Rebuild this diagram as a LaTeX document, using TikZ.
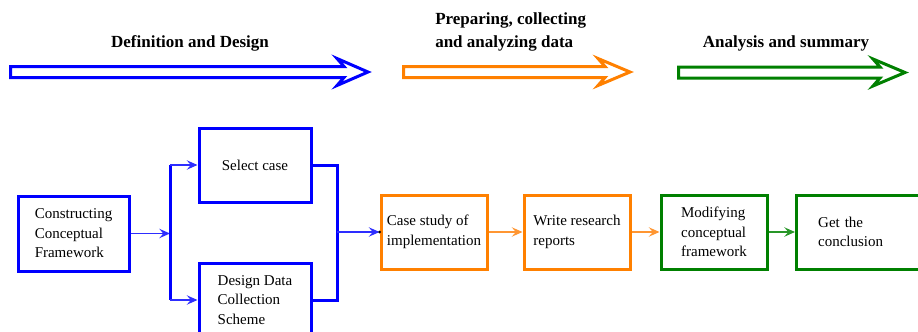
\documentclass[tikz,border=0pt]{standalone}
\usepackage{fontspec}
\setmainfont{Liberation Serif}
\usetikzlibrary{arrows.meta}
\definecolor{myblue}{RGB}{0,0,255}
\definecolor{myorange}{RGB}{255,128,0}
\definecolor{mygreen}{RGB}{0,128,0}
\definecolor{lblue}{RGB}{45,45,255}
\definecolor{lorange}{RGB}{255,150,50}
\definecolor{lgreen}{RGB}{40,150,40}
\begin{document}
\begin{tikzpicture}[x=0.75pt,y=-0.75pt,
  boxbase/.style={draw, line width=2.25pt, fill=white, align=left,
    font=\fontsize{11.25}{14.6}\selectfont, inner sep=0pt},
  bbox/.style={boxbase, draw=myblue, minimum width=84pt, minimum height=55.5pt},
  obox/.style={boxbase, draw=myorange, minimum width=79.5pt, minimum height=55.5pt},
  gbox/.style={boxbase, draw=mygreen, minimum width=79.5pt, minimum height=55.5pt},
  busline/.style={line width=2.25pt, myblue},
  conn/.style={line width=1.2pt, -{Stealth[length=8pt,width=7pt,inset=3pt]}},
  bigarrow/.style={line width=2.25pt, line join=miter},
  title/.style={font=\fontsize{12.75}{17.25}\selectfont\bfseries, align=left, inner sep=0pt}
]
\useasboundingbox (0,0) rectangle (918,332);
\clip (0,0) rectangle (918,332);

% phase arrows
\draw[bigarrow, myblue] (10.5,66.5) -- (344,66.5) -- (337,58.5) -- (368,72) -- (337,85.5) -- (344,77.5) -- (10.5,77.5) -- cycle;
\draw[bigarrow, myorange] (403.5,66.5) -- (605,66.5) -- (598,58.5) -- (630,72) -- (598,85.5) -- (605,77.5) -- (403.5,77.5) -- cycle;
\draw[bigarrow, mygreen] (678.5,67) -- (880,67) -- (873,59) -- (905,72.5) -- (873,86) -- (880,78) -- (678.5,78) -- cycle;

% titles
\node[title] (t1) at (190,43) {Definition and Design};
\node[title, anchor=west] (t2) at (435,31.5) {Preparing, collecting\\and analyzing data};
\node[title] (t3) at (786,43) {Analysis and summary};

% boxes
\node[bbox, minimum width=83.25pt, minimum height=56.25pt] (cf) at (73.5,233.5) {Constructing\\Conceptual\\Framework};
\node[bbox] (sc) at (255,165) {Select case};
\node[bbox] (dd) at (255,300) {Design Data\\Collection\\Scheme};
\node[obox] (cs) at (434,232) {Case study of\\implementation};
\node[obox] (wr) at (577,232) {Write research\\reports};
\node[gbox] (mc) at (714,232) {Modifying\\conceptual\\framework};
\node[gbox, minimum width=97.5pt, text width=65pt, inner xsep=16.1pt] (gc) at (861.5,232) {Get the\\conclusion};

% bus coordinates
\coordinate (b1) at (170,165);
\coordinate (b2) at (170,300);
\coordinate (bm) at (170,233.5);
\coordinate (r1) at (337,165);
\coordinate (r2) at (337,300);
\coordinate (rm) at (337,232);

% connectors
\draw[conn, lblue] (cf.east) -- (bm);
\draw[busline] (b1) -- (b2);
\draw[conn, lblue] (b1) -- (sc.west);
\draw[conn, lblue] (b2) -- (dd.west);
\draw[busline, line join=miter] (sc.east) -- (r1) -- (r2) -- (dd.east);
\draw[conn, lblue] (rm) -- (cs.west);
\fill[black] (cs.west) circle (1.5);
\draw[conn, lorange] (cs) -- (wr);
\draw[conn, lorange] (wr) -- (mc);
\draw[conn, lgreen] (mc) -- (gc);
\end{tikzpicture}
\end{document}
